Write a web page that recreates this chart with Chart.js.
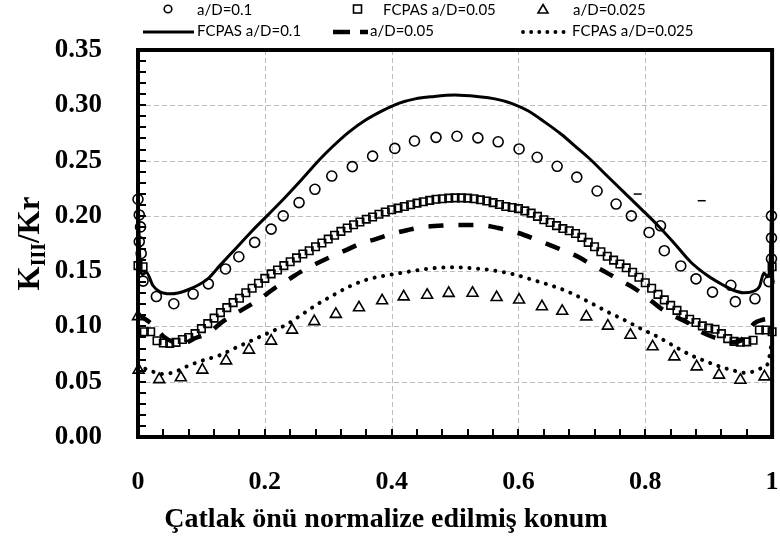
<!DOCTYPE html>
<html>
<head>
<meta charset="utf-8">
<script src="https://cdn.jsdelivr.net/npm/chart.js@4"></script>
<style>
  html, body { margin: 0; padding: 0; background: #fff; }
  canvas { display: block; }
</style>
</head>
<body>
<canvas id="kChart" width="780" height="542"></canvas>
<script>
"use strict"

// tick labels
let xTicks = [0, 0.2, 0.4, 0.6, 0.8, 1];
let yTicks = [0, 0.05, 0.10, 0.15, 0.20, 0.25, 0.30, 0.35];

// a/D=0.1 (circles)
let circleX = [0, 0.002, 0.004, 0.002, 0.005, 0.008, 0.029, 0.0565, 0.087, 0.111, 0.138, 0.159, 0.184, 0.21, 0.229,
  0.254, 0.279, 0.3056, 0.338, 0.37, 0.405, 0.436, 0.47, 0.503, 0.536, 0.568, 0.601, 0.6295, 0.661, 0.692, 0.724,
  0.754, 0.778, 0.806, 0.824, 0.83, 0.856, 0.88, 0.906, 0.935, 0.942, 0.973, 0.995, 0.999, 0.999, 0.999];
let circleY = [0.215, 0.2008, 0.19, 0.1767, 0.166, 0.141, 0.127, 0.1205, 0.1293, 0.1385, 0.152, 0.163, 0.176, 0.188, 0.2,
  0.212, 0.224, 0.236, 0.2445, 0.254, 0.261, 0.2677, 0.271, 0.272, 0.2705, 0.267, 0.2605, 0.253, 0.2448, 0.235, 0.2225,
  0.2107, 0.2, 0.185, 0.191, 0.1685, 0.1547, 0.143, 0.131, 0.1372, 0.1224, 0.125, 0.1405, 0.1612, 0.18, 0.2];

// FCPAS a/D=0.05 (squares)
let squareX = [0, 0.008, 0.01, 0.02, 0.03, 0.04, 0.05, 0.06, 0.07, 0.08, 0.09, 0.10, 0.11, 0.12, 0.13, 0.14, 0.15, 0.16,
  0.17, 0.18, 0.19, 0.20, 0.21, 0.22, 0.23, 0.24, 0.25, 0.26, 0.27, 0.28, 0.29, 0.30, 0.31, 0.32, 0.33, 0.34, 0.35, 0.36,
  0.37, 0.38, 0.39, 0.40, 0.41, 0.42, 0.43, 0.44, 0.45, 0.46, 0.47, 0.48, 0.49, 0.50, 0.51, 0.52, 0.53, 0.54, 0.55, 0.56,
  0.57, 0.58, 0.59, 0.60, 0.61, 0.62, 0.63, 0.64, 0.65, 0.66, 0.67, 0.68, 0.69, 0.70, 0.71, 0.72, 0.73, 0.74, 0.75, 0.76,
  0.77, 0.78, 0.79, 0.80, 0.81, 0.82, 0.83, 0.84, 0.85, 0.86, 0.87, 0.88, 0.89, 0.90, 0.91, 0.92, 0.93, 0.94, 0.95, 0.96,
  0.97, 0.98, 0.99, 1, 1];
let squareY = [0.155, 0.154, 0.0952, 0.0952, 0.087, 0.085, 0.0847, 0.0856, 0.0882, 0.090, 0.0935, 0.098, 0.1025, 0.1075,
  0.1125, 0.117, 0.1215, 0.1255, 0.1305, 0.1345, 0.139, 0.1435, 0.1475, 0.151, 0.155, 0.1585, 0.162, 0.1655, 0.1685,
  0.172, 0.1755, 0.179, 0.1825, 0.186, 0.189, 0.192, 0.1945, 0.197, 0.199, 0.2015, 0.2035, 0.2055, 0.207, 0.2085, 0.21,
  0.2115, 0.2128, 0.214, 0.215, 0.2155, 0.216, 0.2163, 0.2163, 0.216, 0.2155, 0.2145, 0.2135, 0.212, 0.2103, 0.2085,
  0.2075, 0.2065, 0.2045, 0.2025, 0.1995, 0.1965, 0.194, 0.1912, 0.1885, 0.1865, 0.184, 0.1805, 0.176, 0.172, 0.1675,
  0.1635, 0.16, 0.1565, 0.153, 0.149, 0.1445, 0.1395, 0.1345, 0.129, 0.124, 0.119, 0.1145, 0.1105, 0.1065, 0.1035,
  0.1005, 0.0985, 0.0975, 0.0935, 0.089, 0.0865, 0.0857, 0.086, 0.0875, 0.0968, 0.0968, 0.0952, 0.154];

// a/D=0.025 (triangles)
let triangleX = [0, 0.001, 0.0335, 0.0675, 0.1015, 0.139, 0.175, 0.21, 0.243, 0.278, 0.312, 0.3485, 0.385, 0.419, 0.456,
  0.49, 0.5275, 0.5656, 0.601, 0.637, 0.669, 0.707, 0.741, 0.7766, 0.8116, 0.8457, 0.881, 0.9163, 0.95, 0.988];
let triangleY = [0.109, 0.0606, 0.052, 0.0537, 0.0606, 0.069, 0.0787, 0.0868, 0.0968, 0.1045, 0.111, 0.117, 0.1233,
  0.1269, 0.1284, 0.13, 0.1302, 0.1263, 0.124, 0.118, 0.1138, 0.1088, 0.1004, 0.0922, 0.0817, 0.0726, 0.0636, 0.0561,
  0.0515, 0.0545];

// FCPAS a/D=0.1 (solid line)
let solidX = [0, 0.003, 0.007, 0.013, 0.0235, 0.034, 0.052, 0.076, 0.11, 0.129, 0.155, 0.181, 0.207, 0.233, 0.26, 0.2857,
  0.3066, 0.333, 0.359, 0.385, 0.411, 0.437, 0.4636, 0.5, 0.537, 0.563, 0.589, 0.615, 0.641, 0.667, 0.6934, 0.7143,
  0.74, 0.767, 0.793, 0.8195, 0.846, 0.872, 0.898, 0.924, 0.94, 0.955, 0.969, 0.98, 0.987, 0.993, 0.997, 1];
let solidY = [0.225, 0.16, 0.147, 0.149, 0.137, 0.1315, 0.1295, 0.1325, 0.143, 0.155, 0.171, 0.187, 0.202, 0.2173, 0.234,
  0.2505, 0.2625, 0.276, 0.2867, 0.295, 0.3018, 0.3058, 0.3078, 0.3093, 0.3078, 0.3058, 0.3018, 0.295, 0.285, 0.274,
  0.261, 0.2505, 0.236, 0.221, 0.2065, 0.1915, 0.175, 0.158, 0.146, 0.137, 0.1325, 0.1305, 0.1315, 0.136, 0.148, 0.145,
  0.16, 0.23];

// a/D=0.05 (dashed line)
let dashX = [0, 0.024, 0.04, 0.055, 0.07, 0.09, 0.11, 0.134, 0.155, 0.176, 0.196, 0.215, 0.236, 0.26, 0.28, 0.304, 0.328,
  0.351, 0.375, 0.4, 0.424, 0.45, 0.474, 0.5, 0.524, 0.55, 0.568, 0.6, 0.63, 0.6625, 0.694, 0.715, 0.741, 0.759, 0.783,
  0.801, 0.8246, 0.843, 0.869, 0.8875, 0.914, 0.935, 0.95, 0.9587, 0.972, 0.985, 1];
let dashY = [0.111, 0.101, 0.091, 0.086, 0.0845, 0.0893, 0.0938, 0.1045, 0.112, 0.119, 0.1265, 0.1345, 0.142, 0.1505,
  0.1565, 0.163, 0.169, 0.175, 0.179, 0.1836, 0.187, 0.19, 0.191, 0.1918, 0.1918, 0.191, 0.189, 0.1845, 0.178, 0.1706,
  0.163, 0.156, 0.148, 0.142, 0.1345, 0.127, 0.1164, 0.11, 0.1028, 0.0952, 0.089, 0.0855, 0.087, 0.093, 0.1028, 0.106,
  0.107];

// FCPAS a/D=0.025 (dotted line)
let dotX = [0, 0.013, 0.0235, 0.037, 0.05, 0.063, 0.076, 0.089, 0.104, 0.129, 0.155, 0.181, 0.207, 0.233, 0.254, 0.28,
  0.307, 0.333, 0.359, 0.385, 0.411, 0.437, 0.464, 0.5, 0.536, 0.568, 0.597, 0.623, 0.649, 0.678, 0.715, 0.741, 0.767,
  0.793, 0.8195, 0.846, 0.872, 0.901, 0.927, 0.94, 0.956, 0.969, 0.982, 0.993, 1];
let dotY = [0.066, 0.0612, 0.059, 0.057, 0.0576, 0.06, 0.0636, 0.0666, 0.0696, 0.074, 0.081, 0.0877, 0.0945, 0.1013,
  0.109, 0.119, 0.128, 0.136, 0.142, 0.1455, 0.148, 0.1505, 0.1526, 0.1535, 0.1522, 0.15, 0.1465, 0.142, 0.1375,
  0.1314, 0.121, 0.113, 0.1058, 0.098, 0.0907, 0.082, 0.074, 0.0672, 0.062, 0.06, 0.058, 0.059, 0.062, 0.066, 0.088];

// two short stray marks above the curves
let markX = [0.788, 0.889];
let markY = [0.2197, 0.2137];

function pairs(xs, ys) {
  return xs.map((x, i) => ({ x: x, y: ys[i] }));
}

const serif = "'Liberation Serif', 'Times New Roman', serif";

// dashed grid, plot frame and the small inward ticks on the left and bottom
const framePlugin = {
  id: "frame",
  beforeDatasetsDraw(chart) {
    const { ctx, chartArea: a, scales } = chart;
    ctx.save();
    ctx.strokeStyle = "#bdbdbd";
    ctx.lineWidth = 1;
    ctx.setLineDash([5, 3]);
    for (let i = 1; i < yTicks.length - 1; i++) {
      let py = Math.round(scales.y.getPixelForValue(yTicks[i])) + 0.5;
      ctx.beginPath();
      ctx.moveTo(a.left, py);
      ctx.lineTo(a.right, py);
      ctx.stroke();
    }
    for (let i = 1; i < xTicks.length - 1; i++) {
      let px = Math.round(scales.x.getPixelForValue(xTicks[i])) + 0.5;
      ctx.beginPath();
      ctx.moveTo(px, a.top);
      ctx.lineTo(px, a.bottom);
      ctx.stroke();
    }
    ctx.setLineDash([]);
    ctx.strokeStyle = "#000";
    ctx.lineWidth = 2;
    for (let i = 0; i <= 35; i++) {
      let py = Math.round(scales.y.getPixelForValue(i / 100));
      ctx.beginPath();
      ctx.moveTo(a.left, py);
      ctx.lineTo(a.left + 8, py);
      ctx.stroke();
    }
    for (let i = 0; i <= 25; i++) {
      let px = Math.round(scales.x.getPixelForValue(i * 0.04));
      ctx.beginPath();
      ctx.moveTo(px, a.bottom);
      ctx.lineTo(px, a.bottom - 8);
      ctx.stroke();
    }
    ctx.lineWidth = 4;
    ctx.strokeRect(a.left, a.top, a.right - a.left, a.bottom - a.top);
    ctx.restore();
  }
};

// axis titles and the two-row legend
const labelPlugin = {
  id: "labels",
  afterDraw(chart) {
    const { ctx, chartArea: a } = chart;
    ctx.save();
    ctx.fillStyle = "#000";
    ctx.strokeStyle = "#000";

    // x title
    ctx.font = "bold 28px " + serif;
    ctx.textAlign = "center";
    ctx.textBaseline = "alphabetic";
    ctx.fillText("Çatlak önü normalize edilmiş konum", 386, 527);

    // y title with subscript
    ctx.translate(39, (a.top + a.bottom) / 2);
    ctx.rotate(-Math.PI / 2);
    ctx.textAlign = "left";
    const big = "bold 31px " + serif;
    const small = "bold 20px " + serif;
    ctx.font = big;
    let wK = ctx.measureText("K").width;
    let wRest = ctx.measureText("/Kr").width;
    ctx.font = small;
    let wSub = ctx.measureText("III").width;
    let x0 = -(wK + wSub + wRest) / 2;
    ctx.font = big;
    ctx.fillText("K", x0, 0);
    ctx.font = small;
    ctx.fillText("III", x0 + wK, 6);
    ctx.font = big;
    ctx.fillText("/Kr", x0 + wK + wSub, 0);
    ctx.setTransform(1, 0, 0, 1, 0, 0);

    // legend
    ctx.font = "15px Lato, 'Open Sans', sans-serif";
    ctx.textAlign = "left";
    ctx.textBaseline = "middle";
    ctx.fillText("a/D=0.1", 197, 10);
    ctx.fillText("FCPAS a/D=0.05", 383, 10);
    ctx.fillText("a/D=0.025", 573, 10);
    ctx.fillText("FCPAS a/D=0.1", 197, 31);
    ctx.fillText("a/D=0.05", 370, 31);
    ctx.fillText("FCPAS a/D=0.025", 572, 31);

    ctx.lineWidth = 1.6;
    ctx.beginPath();
    ctx.arc(168, 9, 3.8, 0, Math.PI * 2);
    ctx.stroke();
    ctx.strokeRect(353.5, 5, 8, 8);
    ctx.beginPath();
    ctx.moveTo(543, 4.5);
    ctx.lineTo(548, 13);
    ctx.lineTo(538, 13);
    ctx.closePath();
    ctx.stroke();

    ctx.lineWidth = 3;
    ctx.beginPath();
    ctx.moveTo(143, 32);
    ctx.lineTo(194, 32);
    ctx.stroke();

    ctx.lineWidth = 4.5;
    ctx.setLineDash([17, 10]);
    ctx.beginPath();
    ctx.moveTo(333, 32);
    ctx.lineTo(368, 32);
    ctx.stroke();

    ctx.setLineDash([0.1, 8]);
    ctx.lineCap = "round";
    ctx.lineWidth = 3.8;
    ctx.beginPath();
    ctx.moveTo(523, 32);
    ctx.lineTo(565, 32);
    ctx.stroke();
    ctx.restore();
  }
};

const ctx = document.getElementById("kChart").getContext("2d");
const kChart = new Chart(ctx, {
  type: "scatter",
  data: {
    datasets: [
      {
        label: "a/D=0.1",
        data: pairs(circleX, circleY),
        pointStyle: "circle",
        pointRadius: 5,
        borderColor: "#000",
        backgroundColor: "rgba(0,0,0,0)",
        borderWidth: 1.6,
        showLine: false,
        clip: false
      },
      {
        label: "FCPAS a/D=0.05",
        data: pairs(squareX, squareY),
        pointStyle: "rect",
        pointRadius: 5.3,
        borderColor: "#000",
        backgroundColor: "rgba(0,0,0,0)",
        borderWidth: 1.6,
        showLine: false,
        clip: false
      },
      {
        label: "a/D=0.025",
        data: pairs(triangleX, triangleY),
        pointStyle: "triangle",
        pointRadius: 6.3,
        borderColor: "#000",
        backgroundColor: "rgba(0,0,0,0)",
        borderWidth: 1.6,
        showLine: false,
        clip: false
      },
      {
        label: "FCPAS a/D=0.1",
        data: pairs(solidX, solidY),
        showLine: true,
        pointRadius: 0,
        borderColor: "#000",
        borderWidth: 3,
        cubicInterpolationMode: "monotone",
        clip: false
      },
      {
        label: "a/D=0.05",
        data: pairs(dashX, dashY),
        showLine: true,
        pointRadius: 0,
        borderColor: "#000",
        borderWidth: 4.5,
        borderDash: [15, 15],
        cubicInterpolationMode: "monotone",
        clip: false
      },
      {
        label: "FCPAS a/D=0.025",
        data: pairs(dotX, dotY),
        showLine: true,
        pointRadius: 0,
        borderColor: "#000",
        borderWidth: 4,
        borderDash: [0.1, 8.6],
        borderCapStyle: "round",
        cubicInterpolationMode: "monotone",
        clip: false
      },
      {
        label: "marks",
        data: pairs(markX, markY),
        pointStyle: "line",
        pointRadius: 4,
        borderColor: "#000",
        borderWidth: 1.5,
        showLine: false
      }
    ]
  },
  options: {
    responsive: false,
    animation: false,
    layout: { padding: { top: 50, right: 5, left: 0, bottom: 0 } },
    plugins: {
      legend: { display: false },
      tooltip: { enabled: false }
    },
    scales: {
      x: {
        type: "linear",
        min: xTicks[0],
        max: xTicks[xTicks.length - 1],
        afterFit: (s) => { s.height = 105; s.paddingLeft = 0; s.paddingRight = 0; },
        afterBuildTicks: (s) => { s.ticks = xTicks.map((v) => ({ value: v })); },
        ticks: {
          padding: 22,
          color: "#000",
          font: { family: serif, size: 26, weight: "bold" },
          callback: (v) => (v === 0 || v === 1 ? String(v) : v.toFixed(1))
        },
        grid: { display: false },
        border: { display: false }
      },
      y: {
        type: "linear",
        min: yTicks[0],
        max: yTicks[yTicks.length - 1],
        afterFit: (s) => { s.width = 138; s.paddingTop = 0; s.paddingBottom = 0; },
        afterBuildTicks: (s) => { s.ticks = yTicks.map((v) => ({ value: v })); },
        ticks: {
          padding: 28,
          color: "#000",
          font: { family: serif, size: 27, weight: "bold" },
          callback: (v) => v.toFixed(2)
        },
        grid: { display: false },
        border: { display: false }
      }
    }
  },
  plugins: [framePlugin, labelPlugin]
});
</script>
</body>
</html>
